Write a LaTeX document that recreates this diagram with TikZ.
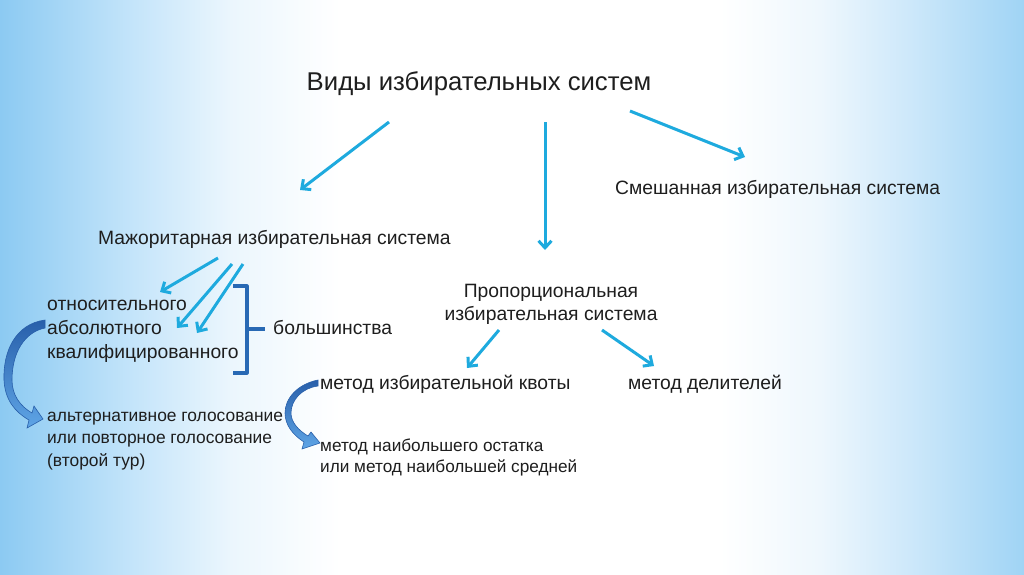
\documentclass[tikz,border=0pt]{standalone}
\usepackage{fontspec}
\setmainfont{Liberation Sans}
\usetikzlibrary{arrows.meta}
\definecolor{bgblue}{RGB}{140,202,242}
\definecolor{bgmid}{RGB}{195,228,250}
\definecolor{bglight}{RGB}{235,246,253}
\definecolor{bgblueR}{RGB}{160,212,245}
\definecolor{bgmidR}{RGB}{205,232,250}
\definecolor{bglightR}{RGB}{238,247,253}
\definecolor{arrowblue}{RGB}{30,170,222}
\definecolor{brblue}{RGB}{40,105,180}
\definecolor{cdark}{RGB}{40,95,170}
\definecolor{clight}{RGB}{95,165,230}
\definecolor{txtc}{RGB}{30,30,30}
\tikzset{
  txt/.style={inner sep=0pt, text=txtc, font=\fontsize{19.3}{24}\selectfont},
  ttl/.style={inner sep=0pt, text=txtc, font=\fontsize{25.7}{30}\selectfont},
  arr/.style={draw=arrowblue, line width=3pt, -{Straight Barb[length=7pt,width=13pt,line width=3pt]}},
  brk/.style={draw=brblue, line width=3.2pt, line join=round},
  carr/.style={top color=cdark, bottom color=clight, draw=cdark, line width=0.6pt}
}
\begin{document}
\begin{tikzpicture}[x=1pt,y=-1pt]
\useasboundingbox (0,0) rectangle (1024,574);
\fill[white] (0,0) rectangle (1024,574);
\shade[left color=bgblue, right color=bgmid] (0,0) rectangle (130.5,574);
\shade[left color=bgmid, right color=bglight] (130,0) rectangle (230.5,574);
\shade[left color=bglight, right color=white] (230,0) rectangle (340,574);
\shade[left color=white, right color=bglightR] (720,0) rectangle (820.5,574);
\shade[left color=bglightR, right color=bgmidR] (820,0) rectangle (910.5,574);
\shade[left color=bgmidR, right color=bgblueR] (910,0) rectangle (1024,574);

% texts
\node[ttl, anchor=base] (title) at (479,90) {Виды избирательных систем};
\node[txt, anchor=base west] (mixed) at (615,194) {Смешанная избирательная система};
\node[txt, anchor=base west] (major) at (98,244) {Мажоритарная избирательная система};
\node[txt, anchor=base, align=center, font=\fontsize{19.3}{23}\selectfont] (prop) at (551,320) {Пропорциональная\\избирательная система};
\node[txt, anchor=base west, align=left] (kinds) at (47,358) {относительного\\абсолютного\\квалифицированного};
\node[txt, anchor=base west] (most) at (273,334) {большинства};
\node[txt, anchor=base west] (quota) at (320,389) {метод избирательной квоты};
\node[txt, anchor=base west] (div) at (628,389) {метод делителей};
\node[txt, anchor=base west, align=left, font=\fontsize{17.4}{22.5}\selectfont] (alt) at (47,466) {альтернативное голосование\\или повторное голосование\\(второй тур)};
\node[txt, anchor=base west, align=left, font=\fontsize{17.2}{20.5}\selectfont] (rem) at (320,472) {метод наибольшего остатка\\или метод наибольшей средней};

% arrow end points
\coordinate (t1) at (389,122); \coordinate (h1) at (300,190);
\coordinate (t2) at (545,122); \coordinate (h2) at (545,250);
\coordinate (t3) at (630,111); \coordinate (h3) at (745,157);
\coordinate (m1) at (218,258); \coordinate (k1) at (160,292);
\coordinate (m2) at (232,264); \coordinate (k2) at (177,328);
\coordinate (m3) at (243,264); \coordinate (k3) at (197,333);
\coordinate (p1) at (499,330); \coordinate (q1) at (467,368);
\coordinate (p2) at (602,330); \coordinate (q2) at (654,366);

\draw[arr] (t1) -- (h1);
\draw[arr] (t2) -- (h2);
\draw[arr] (t3) -- (h3);
\draw[arr] (m1) -- (k1);
\draw[arr] (m2) -- (k2);
\draw[arr] (m3) -- (k3);
\draw[arr] (p1) -- (q1);
\draw[arr] (p2) -- (q2);

% bracket
\draw[brk] (233,286) -- (247,286) -- (247,373) -- (233,373);
\draw[brk] (247,329) -- (265,329);

% curved block arrows
\shadedraw[carr] (45,320) .. controls (15,324) and (3,352) .. (4,380)
  .. controls (5,400) and (15,412) .. (29,420) -- (27,428) -- (43,419) -- (34,406) -- (32,413)
  .. controls (20,406) and (12,395) .. (12,380)
  .. controls (12,352) and (25,332) .. (45,328) -- cycle;
\shadedraw[carr] (318,380) .. controls (298,384) and (285,398) .. (285,413)
  .. controls (285,425) and (293,435) .. (304,442) -- (302,449) -- (320,443) -- (311,432) -- (308,436)
  .. controls (298,430) and (291,422) .. (291,413)
  .. controls (291,400) and (302,388) .. (318,386) -- cycle;
\end{tikzpicture}
\end{document}
